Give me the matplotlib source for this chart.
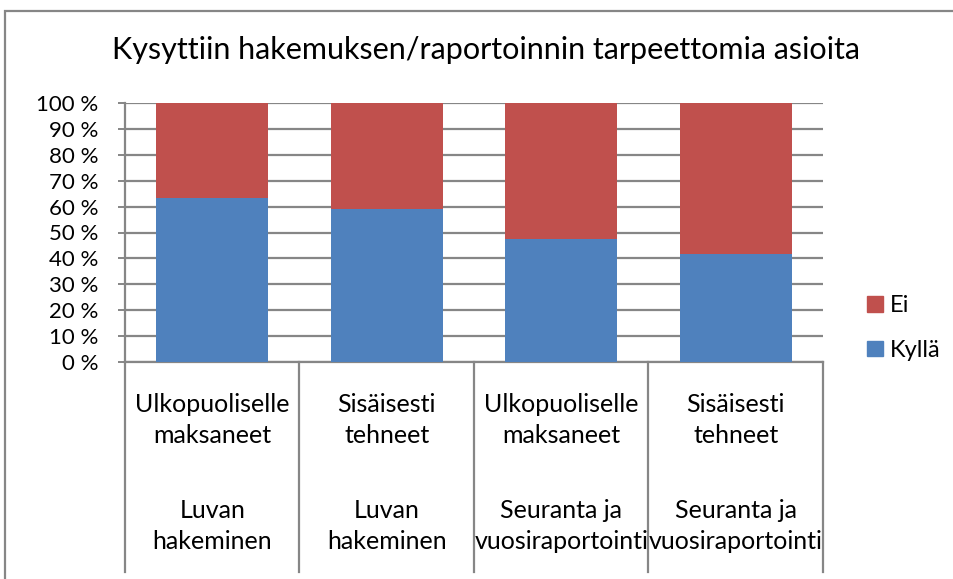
import matplotlib
matplotlib.use("Agg")
import matplotlib.pyplot as plt
from matplotlib.patches import Rectangle
from matplotlib.lines import Line2D
import matplotlib.transforms as mtransforms

# ---- data ----
subgroups = ["Ulkopuoliselle\nmaksaneet", "Sisäisesti\ntehneet",
             "Ulkopuoliselle\nmaksaneet", "Sisäisesti\ntehneet"]
groups = ["Luvan\nhakeminen", "Luvan\nhakeminen",
          "Seuranta ja\nvuosiraportointi", "Seuranta ja\nvuosiraportointi"]
kylla = [63.5, 59.2, 47.3, 41.8]
ei = [36.5, 40.8, 52.7, 58.2]
yticks = [0, 10, 20, 30, 40, 50, 60, 70, 80, 90, 100]
ytick_labels = [f"{v} %" for v in yticks]
title = "Kysyttiin hakemuksen/raportoinnin tarpeettomia asioita"

plt.rcParams['font.family'] = ['Lato', 'DejaVu Sans']

W, H = 954, 579
fig = plt.figure(figsize=(W / 100, H / 100), dpi=100)

def fx(px):
    return px / W

def fy(py):
    return 1 - py / H

left, right, top, bottom = 125, 823, 103, 362
ax = fig.add_axes([fx(left), fy(bottom), fx(right - left), (bottom - top) / H])

grey = "#868686"
blue = "#4F81BD"
red = "#C0504D"

x = list(range(len(kylla)))
ax.bar(x, kylla, width=0.64, color=blue, zorder=3)
ax.bar(x, ei, width=0.64, bottom=kylla, color=red, zorder=3)

ax.set_xlim(-0.5, len(kylla) - 0.5)
ax.set_ylim(0, 100)
ax.set_yticks(yticks)
ax.set_yticklabels(ytick_labels, fontsize=16)
ax.set_xticks([])
ax.yaxis.grid(True, color=grey, linewidth=1.6, zorder=0)
ax.set_axisbelow(True)
ax.tick_params(axis='y', length=5, width=1.4, color=grey, pad=14, direction='out')
ax.spines['right'].set_visible(False)
ax.spines['top'].set_visible(False)
for sp in ['left', 'bottom']:
    ax.spines[sp].set_color(grey)
    ax.spines[sp].set_linewidth(1.6)

# category separators extending down
sep_bottom = -(572 - bottom) / (bottom - top)
trans = mtransforms.blended_transform_factory(ax.transData, ax.transAxes)
for b in [i - 0.5 for i in range(len(kylla) + 1)]:
    ax.add_line(Line2D([b, b], [0, sep_bottom], transform=trans, color=grey,
                       linewidth=1.6, clip_on=False))

for i in x:
    ax.text(i, -(420 - bottom) / (bottom - top), subgroups[i], transform=trans,
            ha='center', va='center', fontsize=18, linespacing=1.38)
    ax.text(i, -(526 - bottom) / (bottom - top), groups[i], transform=trans,
            ha='center', va='center', fontsize=18, linespacing=1.38)

fig.text(fx(486), fy(50), title, ha='center', va='center', fontsize=22)

# legend
handles = [Rectangle((0, 0), 1, 1, color=red), Rectangle((0, 0), 1, 1, color=blue)]
leg = fig.legend(handles, ["Ei", "Kyllä"], loc='center left',
                 bbox_to_anchor=(fx(846), fy(328)), frameon=False, fontsize=17,
                 handlelength=0.65, handleheight=0.65, handletextpad=0.3,
                 labelspacing=1.0)

# outer chart border
fig.add_artist(Rectangle((fx(5), fy(600)), fx(1000), (600 - 11) / H,
                         transform=fig.transFigure, fill=False,
                         edgecolor=grey, linewidth=1.6))

fig.savefig("out.png", dpi=100)
